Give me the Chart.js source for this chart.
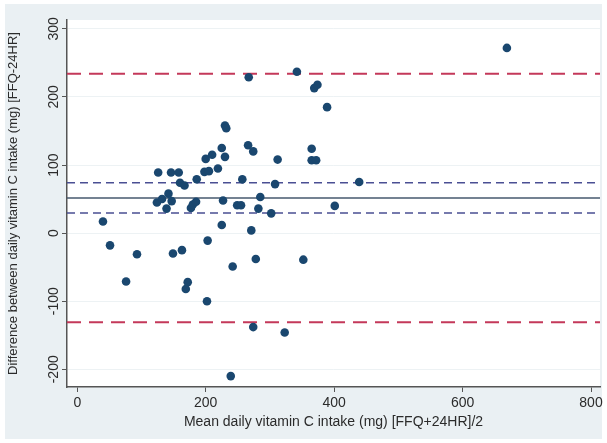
<!DOCTYPE html>
<html>
<head>
<meta charset="utf-8">
<script src="https://cdn.jsdelivr.net/npm/chart.js@4.4.1/dist/chart.umd.min.js"></script>
<style>
  html, body { margin: 0; padding: 0; background: #fff; }
  canvas { display: block; }
</style>
</head>
<body>
<canvas id="chart" width="607" height="443"></canvas>
<script>
// mean of the two methods (x) and their difference (y)
const meanIntake = [40, 51, 76, 93, 126, 146, 158, 160, 167, 186, 124, 132, 142, 147, 139, 177, 180, 185,
  149, 163, 172, 169, 203, 202, 200, 210, 198, 205, 219, 225, 230, 230, 232, 266, 274, 312, 365, 365, 372,
  257, 308, 227, 285, 249, 255, 282, 302, 401, 439, 225, 271, 278, 352, 242, 274, 323, 239, 267, 342, 369,
  374, 389, 669];
const diffIntake = [17, -18, -71, -31, 89, 89, 89, 74, 70, 79, 45, 50, 58, 47, 36, 37, 42, 46,
  -30, -25, -72, -82, -11, -100, 109, 115, 90, 91, 95, 125, 112, 158, 154, 129, 120, 108, 124, 107, 107,
  79, 72, 48, 53, 41, 41, 36, 29, 40, 75, 12, 4, -38, -39, -49, -138, -146, -210, 229, 237, 213,
  218, 185, 272];

const meanDiff = 51.5;
const ciDiff = [29.5, 74];
const limitsAgreement = [-131, 234];

const xTicks = [0, 200, 400, 600, 800];
const yTicks = [-200, -100, 0, 100, 200, 300];
const xRange = [-16, 814];
const yRange = [-226, 313];

const hline = (y) => [{ x: xRange[0], y: y }, { x: xRange[1], y: y }];

const bgPlugin = {
  id: 'bg',
  beforeDraw(chart) {
    const { ctx, chartArea: a } = chart;
    ctx.save();
    ctx.fillStyle = '#ffffff';
    ctx.fillRect(0, 0, chart.width, chart.height);
    ctx.fillStyle = '#eaf0f3';
    ctx.fillRect(5, 4, chart.width - 10, chart.height - 8);
    ctx.fillStyle = '#ffffff';
    ctx.fillRect(a.left, a.top, a.right - a.left, a.bottom - a.top);
    ctx.restore();
  }
};

// vertical y tick labels, as Stata draws them
const yLabelPlugin = {
  id: 'yLabels',
  afterDraw(chart) {
    const { ctx } = chart;
    const ys = chart.scales.y;
    ctx.save();
    ctx.fillStyle = '#2b2b2b';
    ctx.font = '14px "Liberation Sans", Arial, sans-serif';
    ctx.textAlign = 'center';
    ctx.textBaseline = 'middle';
    yTicks.forEach(v => {
      ctx.save();
      ctx.translate(54, ys.getPixelForValue(v));
      ctx.rotate(-Math.PI / 2);
      ctx.fillText(String(v), 0, 0);
      ctx.restore();
    });
    ctx.restore();
  }
};

new Chart(document.getElementById('chart'), {
  type: 'scatter',
  data: {
    datasets: [
      {
        label: 'difference',
        data: meanIntake.map((x, i) => ({ x: x, y: diffIntake[i] })),
        backgroundColor: '#1a476f',
        borderColor: '#1a476f',
        pointRadius: 4.3,
        borderWidth: 0
      },
      {
        type: 'line',
        label: 'upper limit',
        data: hline(limitsAgreement[1]),
        borderColor: '#c4385a',
        borderWidth: 2,
        borderDash: [14, 8],
        pointRadius: 0
      },
      {
        type: 'line',
        label: 'lower limit',
        data: hline(limitsAgreement[0]),
        borderColor: '#c4385a',
        borderWidth: 2,
        borderDash: [14, 8],
        pointRadius: 0
      },
      {
        type: 'line',
        label: 'ci upper',
        data: hline(ciDiff[1]),
        borderColor: '#4a4f93',
        borderWidth: 1.5,
        borderDash: [8, 5],
        pointRadius: 0
      },
      {
        type: 'line',
        label: 'ci lower',
        data: hline(ciDiff[0]),
        borderColor: '#4a4f93',
        borderWidth: 1.5,
        borderDash: [8, 5],
        pointRadius: 0
      },
      {
        type: 'line',
        label: 'mean',
        data: hline(meanDiff),
        borderColor: '#46586e',
        borderWidth: 1.6,
        pointRadius: 0
      }
    ]
  },
  options: {
    responsive: false,
    animation: false,
    layout: { padding: { left: 0, right: 7, top: 20, bottom: 0 } },
    plugins: {
      legend: { display: false },
      tooltip: { enabled: false }
    },
    scales: {
      x: {
        type: 'linear',
        min: xRange[0],
        max: xRange[1],
        afterBuildTicks: s => { s.ticks = xTicks.map(v => ({ value: v })); },
        afterFit: s => { s.height = 56; },
        ticks: {
          color: '#2b2b2b',
          padding: 3,
          maxRotation: 0,
          font: { family: '"Liberation Sans", Arial, sans-serif', size: 14 }
        },
        grid: { drawOnChartArea: false, drawTicks: true, tickLength: 5, tickColor: '#555' },
        border: { color: '#555', width: 1.5 },
        title: {
          display: true,
          text: 'Mean daily vitamin C intake (mg) [FFQ+24HR]/2',
          color: '#2b2b2b',
          font: { family: '"Liberation Sans", Arial, sans-serif', size: 14 },
          padding: { top: 0, bottom: 12 }
        }
      },
      y: {
        min: yRange[0],
        max: yRange[1],
        afterBuildTicks: s => { s.ticks = yTicks.map(v => ({ value: v })); },
        afterFit: s => { s.width = 67; },
        ticks: { display: false },
        grid: { color: '#edf2f4', drawTicks: true, tickLength: 5, tickColor: '#555' },
        border: { color: '#555', width: 1.5 },
        title: {
          display: true,
          text: 'Difference between daily vitamin C intake (mg) [FFQ-24HR]',
          color: '#2b2b2b',
          font: { family: '"Liberation Sans", Arial, sans-serif', size: 13 },
          padding: { top: 6, bottom: 0 }
        }
      }
    }
  },
  plugins: [bgPlugin, yLabelPlugin]
});
</script>
</body>
</html>
